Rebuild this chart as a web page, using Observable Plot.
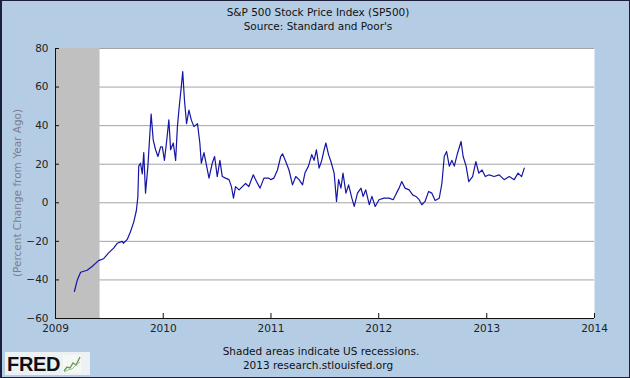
<!DOCTYPE html>
<html><head><meta charset="utf-8">
<script src="https://cdn.jsdelivr.net/npm/d3@7"></script>
<script src="https://cdn.jsdelivr.net/npm/@observablehq/plot@0.6"></script>
<style>
html,body{margin:0;padding:0;}
body{width:630px;height:378px;overflow:hidden;position:relative;background:#b5cde4;font-family:"DejaVu Sans",sans-serif;color:#111;}
.t{position:absolute;left:0;width:630px;text-align:center;font-size:10.5px;line-height:13px;white-space:nowrap;}
#chart{position:absolute;left:0;top:40px;}
#ylab{position:absolute;left:17px;top:193px;transform:translate(-50%,-50%) rotate(-90deg);font-size:10.5px;color:#7d7f90;white-space:nowrap;}
#frame{position:absolute;left:0;top:0;width:630px;height:378px;box-sizing:border-box;border:1px solid #1b1f3a;border-left-width:2px;pointer-events:none;}
#logo{position:absolute;left:5px;top:352px;width:85px;height:23px;background:#eef1f4;display:flex;align-items:center;}
#logo span{font-family:"Liberation Sans",Arial,sans-serif;font-weight:bold;font-size:20px;letter-spacing:-0.3px;color:#111;margin-left:2px;line-height:20px;}
</style></head>
<body>
<div class="t" style="top:6px;left:3px">S&amp;P 500 Stock Price Index (SP500)</div>
<div class="t" style="top:20px;left:3px">Source: Standard and Poor's</div>
<div id="chart"></div>
<div id="ylab">(Percent Change from Year Ago)</div>
<div class="t" style="top:345px;left:6px">Shaded areas indicate US recessions.</div>
<div class="t" style="top:359px;left:3px">2013 research.stlouisfed.org</div>
<div id="logo"><span>FRED</span>
<svg width="18" height="18" style="margin-left:3px;background:#f6f8f4"><polyline points="1,16 4,12 7,13 10,8 13,10 17,2" fill="none" stroke="#6a9a5a" stroke-width="1.4"/><polyline points="1,17 5,15 9,14 12,11 17,7" fill="none" stroke="#9cc08c" stroke-width="1"/></svg></div>
<div id="frame"></div>
<script>
// Percent change from year ago
const dates = [
"2009-03-06","2009-03-16","2009-03-27","2009-04-18","2009-05-05","2009-05-27","2009-06-13","2009-06-30",
"2009-07-17","2009-07-29","2009-08-15","2009-08-19","2009-09-01","2009-09-12","2009-09-23","2009-10-02",
"2009-10-07","2009-10-10","2009-10-16","2009-10-22","2009-10-27","2009-11-02","2009-11-10","2009-11-16",
"2009-11-21","2009-11-28","2009-12-06","2009-12-14","2009-12-23","2009-12-29","2010-01-05","2010-01-14",
"2010-01-20","2010-01-26","2010-02-04","2010-02-12","2010-02-18","2010-02-23","2010-03-03","2010-03-08",
"2010-03-14","2010-03-21","2010-03-29","2010-04-06","2010-04-15","2010-04-27","2010-05-05","2010-05-10",
"2010-05-19","2010-05-28","2010-06-05","2010-06-16","2010-06-24","2010-07-03","2010-07-12","2010-07-20",
"2010-07-31","2010-08-12","2010-08-20","2010-08-27","2010-09-03","2010-09-15","2010-09-26","2010-10-07",
"2010-10-18","2010-11-02","2010-11-13","2010-11-25","2010-12-08","2010-12-24","2010-12-31","2011-01-11",
"2011-01-23","2011-02-03","2011-02-09","2011-02-20","2011-03-03","2011-03-15","2011-03-26","2011-04-06",
"2011-04-18","2011-04-26","2011-05-08","2011-05-19","2011-05-27","2011-06-04","2011-06-13","2011-06-22",
"2011-06-30","2011-07-06","2011-07-15","2011-07-23","2011-08-03","2011-08-11","2011-08-18","2011-08-26",
"2011-09-02","2011-09-12","2011-09-21","2011-10-02","2011-10-10","2011-10-21","2011-11-02","2011-11-09",
"2011-11-18","2011-11-30","2011-12-09","2011-12-20","2012-01-02","2012-01-19","2012-02-05","2012-02-19",
"2012-03-01","2012-03-10","2012-03-19","2012-03-30","2012-04-13","2012-04-25","2012-05-06","2012-05-17",
"2012-05-26","2012-06-06","2012-06-18","2012-06-29","2012-07-10","2012-07-24","2012-08-02","2012-08-10",
"2012-08-18","2012-08-27","2012-09-05","2012-09-13","2012-09-24","2012-10-06","2012-10-13","2012-10-23",
"2012-11-01","2012-11-14","2012-11-25","2012-12-05","2012-12-16","2012-12-27","2013-01-09","2013-01-26",
"2013-02-12","2013-03-01","2013-03-18","2013-04-04","2013-04-17","2013-04-29","2013-05-08"
];
const values = [
-46,-40,-36,-35,-33,-30,-29,-26,
-23.5,-21,-20,-21,-19,-15,-10,-4,
3,19,20.5,15,26,5,19,34,
46,32.6,27.5,24,29,29,22,34,
43,27.5,31,22,39.5,48,60,68,
53,41,48,43,39.5,41,31,20.5,
26,19,12.8,20.5,24,13.6,22,13.6,
12.8,12,8.4,2.4,8.4,6.7,8.4,10,
8.4,14.5,11,7.6,12.8,12.8,12,12.8,
17,24,25.4,21.4,17,9.3,13.6,12,
9.3,15.4,19,25,22,27.5,18,22,
27.5,31,25,21.4,15.4,0.7,12,7.6,
15.4,5,9.3,2.4,-1.9,5,7.6,3.3,
6.7,-1,3.3,-1.9,1.6,2.4,2.4,1.6,
5,7.6,11,7.6,6.7,4.1,3.3,1.6,
-1,0.7,5.9,5,1.2,2.4,10,24,
26.6,19,22,19,25.7,31.8,24,19,
11,13.6,21.4,15.4,17,13.6,14.5,13.6,
14.5,12,13.6,12,15.4,13.6,18
];
const recStart = ["2007-12-01"];
const recEnd = ["2009-06-01"];
const yTicks = [-60,-40,-20,0,20,40,60,80];
const xTickLabels = ["2009","2010","2011","2012","2013","2014"];

const parse = d3.utcParse("%Y-%m-%d");
const data = dates.map((d,i)=>({date: parse(d), value: values[i]}));
const rec = recStart.map((s,i)=>({start: parse(s), end: parse(recEnd[i])}));
const xTicks = xTickLabels.map(y=>parse(y+"-01-01"));
const x0 = xTicks[0], x1 = xTicks[xTicks.length-1];

const chart = Plot.plot({
  width: 630, height: 300,
  marginLeft: 55, marginRight: 36, marginTop: 8, marginBottom: 22,
  style: {fontFamily: '"DejaVu Sans", sans-serif', fontSize: "10.5px", background: "transparent", color: "#111"},
  x: {type: "utc", domain: [x0, x1]},
  y: {domain: [yTicks[0], yTicks[yTicks.length-1]]},
  marks: [
    Plot.frame({fill: "white", stroke: null}),
    Plot.gridY(yTicks.slice(1), {stroke: "#a3a3a3", strokeOpacity: 1}),
    Plot.rect(rec, {x1: d => d.start < x0 ? x0 : d.start, x2: "end", fill: "#c0c0c0"}),
    Plot.lineY(data, {x: "date", y: "value", stroke: "#1515a6", strokeWidth: 1.2}),
    Plot.ruleY([yTicks[0]], {stroke: "#111"}),
    Plot.ruleX([x0], {stroke: "#111"}),
    Plot.axisY(yTicks, {tickSize: -4, tickPadding: 11, stroke: "#111", fill: "#222", label: null}),
    Plot.axisX(xTicks, {tickSize: -5, tickPadding: 11, tickFormat: d3.utcFormat("%Y"), stroke: "#111", fill: "#222", label: null})
  ]
});
document.getElementById("chart").appendChild(chart);
</script>
</body></html>
